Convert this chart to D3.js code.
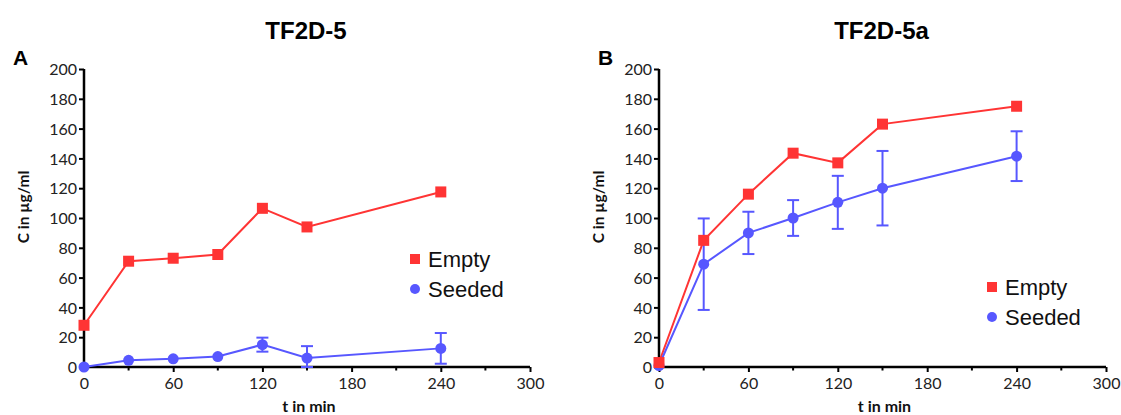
<!DOCTYPE html>
<html>
<head>
<meta charset="utf-8">
<script src="https://cdn.jsdelivr.net/npm/d3@7"></script>
<style>
  html, body { margin: 0; padding: 0; background: #fff; }
  svg { display: block; }
</style>
</head>
<body>
<svg id="chart" width="1121" height="415"></svg>
<script>
// Sampling times (min)
const times = [0, 30, 60, 90, 120, 150, 240];

// Panel A: TF2D-5
const emptyA = [28, 71, 73, 75.5, 106.5, 94, 117.5];
const seededA = [0, 4.5, 5.5, 7, 15, 6, 12.5];
const seededErrA = [0, 0, 0, 0, 4.7, 8, 10.3];

// Panel B: TF2D-5a
const emptyB = [3, 85, 116, 143.5, 137, 163, 175];
const seededB = [1, 69, 90, 100, 110.5, 120, 141.5];
const seededErrB = [0, 30.7, 14.2, 12, 17.8, 25, 16.7];

// Axes
const xTicks = [0, 60, 120, 180, 240, 300];
const xMinorTicks = [30, 90, 150, 210, 270];
const yTicks = [0, 20, 40, 60, 80, 100, 120, 140, 160, 180, 200];

const seriesNames = ["Empty", "Seeded"];
const RED = "#ff3434";
const BLUE = "#5757ff";

const svg = d3.select("#chart");
const tickFont = "Lato, 'Open Sans', sans-serif";
const boldFont = "Lato, 'Open Sans', sans-serif";

function drawPanel(p) {
  const x = d3.scaleLinear().domain([0, 300]).range([p.left, p.right]);
  const y = d3.scaleLinear().domain([0, 200]).range([p.bottom, p.top]);
  const g = svg.append("g");

  // panel title and letter
  g.append("text").attr("x", (p.left + p.right) / 2 - 1).attr("y", 39)
    .attr("text-anchor", "middle").attr("font-family", "'Liberation Sans', Arial, sans-serif")
    .attr("font-weight", "bold").attr("font-size", 24).attr("fill", "#000").text(p.title);
  g.append("text").attr("x", p.letterX).attr("y", 65)
    .attr("font-family", "'Liberation Sans', Arial, sans-serif")
    .attr("font-weight", "bold").attr("font-size", 21).attr("fill", "#000").text(p.letter);

  // y axis
  const yAxis = d3.axisLeft(y).tickValues(yTicks).tickSize(5).tickPadding(2);
  const ya = g.append("g").attr("transform", `translate(${p.left},0)`).call(yAxis);
  ya.select(".domain").attr("stroke", "#000").attr("stroke-width", 2.5)
    .attr("d", `M0,${p.bottom + 1}V${p.top}`);
  ya.selectAll(".tick line").attr("stroke", "#000").attr("stroke-width", 2);
  ya.selectAll(".tick text").attr("font-family", tickFont).attr("font-size", 16)
    .attr("fill", "#222").attr("dy", "0.35em");

  // x axis with major and minor ticks
  const xAxis = d3.axisBottom(x).tickValues(xTicks).tickSize(5).tickPadding(6);
  const xa = g.append("g").attr("transform", `translate(0,${p.bottom})`).call(xAxis);
  xa.select(".domain").attr("stroke", "#000").attr("stroke-width", 2.5)
    .attr("d", `M${p.left - 1},0H${p.right}`);
  xa.selectAll(".tick line").attr("stroke", "#000").attr("stroke-width", 2);
  xa.selectAll(".tick text").attr("font-family", tickFont).attr("font-size", 16).attr("fill", "#222");
  xa.selectAll(".minor").data(xMinorTicks).enter().append("line")
    .attr("x1", d => x(d)).attr("x2", d => x(d)).attr("y1", 0).attr("y2", 3.5)
    .attr("stroke", "#000").attr("stroke-width", 2);

  // axis titles
  g.append("text").attr("transform", `translate(${p.left - 55},207) rotate(-90)`)
    .attr("text-anchor", "middle").attr("font-family", boldFont).attr("font-weight", "bold")
    .attr("font-size", 15.5).attr("fill", "#111").text("C in µg/ml");
  g.append("text").attr("x", (p.left + p.right) / 2 + 2).attr("y", 412)
    .attr("text-anchor", "middle").attr("font-family", boldFont).attr("font-weight", "bold")
    .attr("font-size", 16).attr("fill", "#111").text("t in min");

  const line = d3.line().x(d => x(d[0])).y(d => y(d[1]));

  // Empty series
  const eData = times.map((t, i) => [t, p.empty[i]]);
  g.append("path").datum(eData).attr("d", line).attr("fill", "none")
    .attr("stroke", RED).attr("stroke-width", 2);

  // Seeded series with error bars
  const sData = times.map((t, i) => [t, p.seeded[i], p.err[i]]);
  const eb = g.append("g");
  sData.filter(d => d[2] > 0).forEach(d => {
    const lo = y(Math.max(0, d[1] - d[2]));
    const hi = y(d[1] + d[2]);
    const cx = x(d[0]);
    eb.append("line").attr("x1", cx).attr("x2", cx).attr("y1", lo).attr("y2", hi)
      .attr("stroke", BLUE).attr("stroke-width", 2);
    [lo, hi].forEach(yy => eb.append("line").attr("x1", cx - 6).attr("x2", cx + 6)
      .attr("y1", yy).attr("y2", yy).attr("stroke", BLUE).attr("stroke-width", 2));
  });
  g.append("path").datum(sData).attr("d", line).attr("fill", "none")
    .attr("stroke", BLUE).attr("stroke-width", 2);
  g.selectAll(".sdot").data(sData).enter().append("circle")
    .attr("cx", d => x(d[0])).attr("cy", d => y(d[1])).attr("r", 5.5).attr("fill", BLUE);

  // square markers drawn on top
  g.selectAll(".edot").data(eData).enter().append("rect")
    .attr("x", d => x(d[0]) - 5.5).attr("y", d => y(d[1]) - 5.5)
    .attr("width", 11).attr("height", 11).attr("fill", RED);

  // legend
  const lg = g.append("g").attr("transform", `translate(${p.legX},${p.legY})`);
  seriesNames.forEach((name, i) => {
    const ly = i * 30;
    if (i === 0) {
      lg.append("rect").attr("x", -5).attr("y", ly - 5).attr("width", 10).attr("height", 10).attr("fill", RED);
    } else {
      lg.append("circle").attr("cx", 0).attr("cy", ly).attr("r", 5).attr("fill", BLUE);
    }
    lg.append("text").attr("x", 13).attr("y", ly).attr("dy", "0.36em")
      .attr("font-family", "'Liberation Sans', Arial, sans-serif").attr("font-size", 22)
      .attr("fill", "#111").text(name);
  });
}

drawPanel({
  title: "TF2D-5", letter: "A", letterX: 13,
  left: 84, right: 530, top: 69, bottom: 367,
  empty: emptyA, seeded: seededA, err: seededErrA,
  legX: 415, legY: 259
});

drawPanel({
  title: "TF2D-5a", letter: "B", letterX: 598,
  left: 659, right: 1106, top: 69, bottom: 367,
  empty: emptyB, seeded: seededB, err: seededErrB,
  legX: 992, legY: 287
});
</script>
</body>
</html>
